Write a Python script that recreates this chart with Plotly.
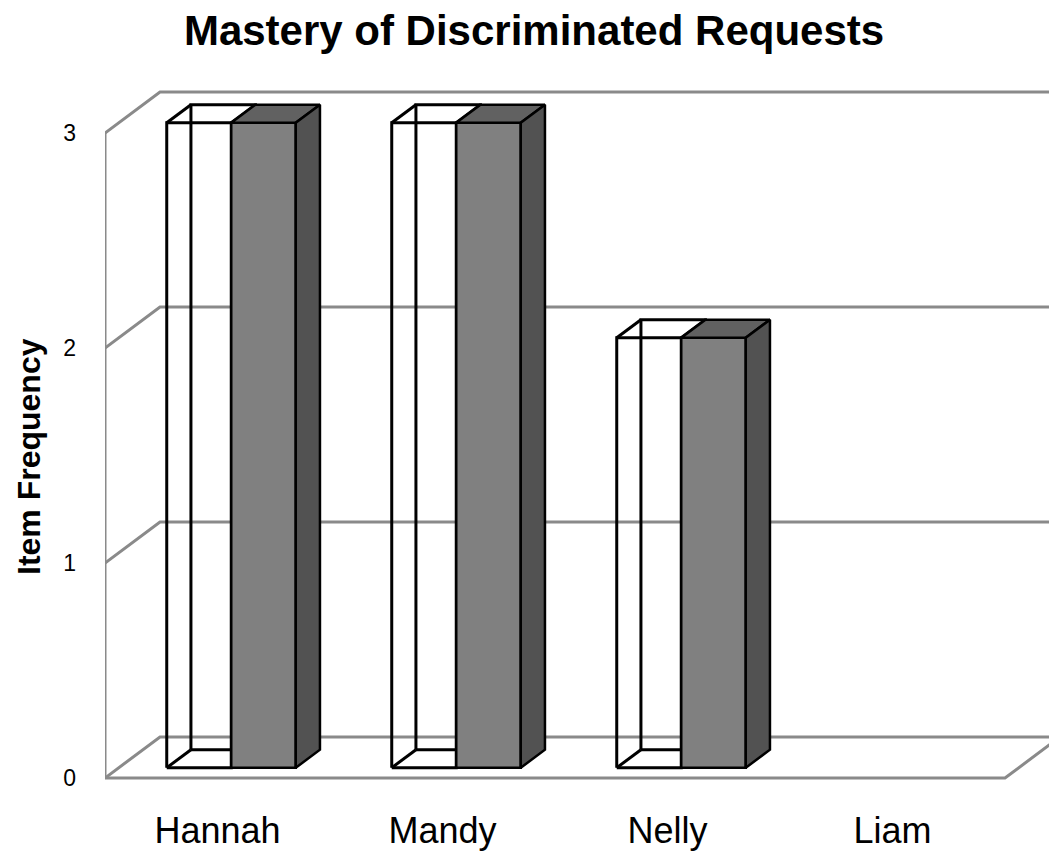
import plotly.graph_objects as go

# data
students = ["Hannah", "Mandy", "Nelly", "Liam"]
series_a = [3, 3, 2, 0]   # outlined (unfilled) bars
series_b = [3, 3, 2, 0]   # grey bars
value_ticks = [0, 1, 2, 3]

FONT = "Liberation Sans, Arial, sans-serif"

# the page body adds an 8px offset, so the figure is 8px smaller each way
W, H = 1049, 851

# oblique projection of the 3D box, in axis units per full depth
KX = 55 / 225
KY = 41 / 215
BAR_W = 0.2867          # bar width in category units (gap width 150%)
D0, D1 = 0.25, 0.69     # bar depth (front / back) as fraction of floor depth
X_LO, X_HI = -0.5, len(students) - 0.5
WALL = "#8a8a8a"


def proj(x, y, d):
    return x + KX * d, y + KY * d


def poly(points):
    xs = [p[0] for p in points] + [points[0][0]]
    ys = [p[1] for p in points] + [points[0][1]]
    return xs, ys


fig = go.Figure()

# walls and floor
wx, wy = [], []
for v in value_ticks:
    # left wall diagonal + back wall gridline
    x0, y0 = proj(X_LO, v, 0)
    x1, y1 = proj(X_LO, v, 1)
    x2, y2 = proj(X_HI, v, 1)
    wx += [x0, x1, x2, None]
    wy += [y0, y1, y2, None]
# left wall front edge
wx += [X_LO, X_LO, None]
wy += [value_ticks[0], value_ticks[-1], None]
# floor front edge + right edge
fx, fy = proj(X_HI, 0, 1)
wx += [X_LO, X_HI, fx, None]
wy += [0, 0, fy, None]
fig.add_trace(go.Scatter(x=wx, y=wy, mode="lines",
                         line=dict(color=WALL, width=3),
                         hoverinfo="skip", showlegend=False))

for i, name in enumerate(students):
    # outlined bar: wireframe, all edges visible
    v = series_a[i]
    if v > 0:
        xl, xr = i - BAR_W, i
        ex, ey = [], []
        for d in (D1, D0):
            pts = [proj(xl, 0, d), proj(xr, 0, d), proj(xr, v, d), proj(xl, v, d)]
            px, py = poly(pts)
            ex += px + [None]
            ey += py + [None]
        for (xx, yy) in [(xl, 0), (xr, 0), (xr, v), (xl, v)]:
            a, b = proj(xx, yy, D0), proj(xx, yy, D1)
            ex += [a[0], b[0], None]
            ey += [a[1], b[1], None]
        fig.add_trace(go.Scatter(x=ex, y=ey, mode="lines",
                                 line=dict(color="black", width=3),
                                 name="Series 1", hoverinfo="skip",
                                 showlegend=False))

    # filled grey bar
    v = series_b[i]
    if v > 0:
        xl, xr = i, i + BAR_W
        faces = [
            ([proj(xl, 0, D0), proj(xr, 0, D0), proj(xr, v, D0), proj(xl, v, D0)], "#808080"),
            ([proj(xl, v, D0), proj(xr, v, D0), proj(xr, v, D1), proj(xl, v, D1)], "#616161"),
            ([proj(xr, 0, D0), proj(xr, 0, D1), proj(xr, v, D1), proj(xr, v, D0)], "#525252"),
        ]
        for pts, col in faces:
            px, py = poly(pts)
            fig.add_trace(go.Scatter(x=px, y=py, mode="lines", fill="toself",
                                     fillcolor=col,
                                     line=dict(color="black", width=2.5),
                                     name="Series 2", hoverinfo="skip",
                                     showlegend=False))

fig.update_layout(
    width=W, height=H,
    margin=dict(l=97, r=0, t=72, b=74),
    plot_bgcolor="white", paper_bgcolor="white",
    font=dict(family=FONT, color="black"),
    title=dict(text="<b>Mastery of Discriminated Requests</b>",
               font=dict(size=42, family=FONT, color="black"),
               x=526 / W, xref="container", xanchor="center",
               y=1 - 22 / H, yref="container", yanchor="middle"),
    showlegend=False,
)
fig.add_annotation(text="<b>Item Frequency</b>", textangle=-90,
                   font=dict(size=32),
                   xref="paper", yref="paper",
                   x=(21 - 97) / 952, y=(777 - 449) / 705,
                   xanchor="center", yanchor="middle", showarrow=False)
fig.update_xaxes(range=[X_LO, (W - 209.5) / 225], automargin=False,
                 tickvals=list(range(len(students))), ticktext=students,
                 tickfont=dict(size=36), ticklabelstandoff=21,
                 showgrid=False, zeroline=False, showline=False, ticks="")
fig.update_yaxes(range=[(770 - 777) / 215, (770 - 72) / 215], automargin=False,
                 tickvals=value_ticks, tickfont=dict(size=23),
                 ticklabelstandoff=28,
                 showgrid=False, zeroline=False, showline=False, ticks="")

fig.write_html("out.html")
